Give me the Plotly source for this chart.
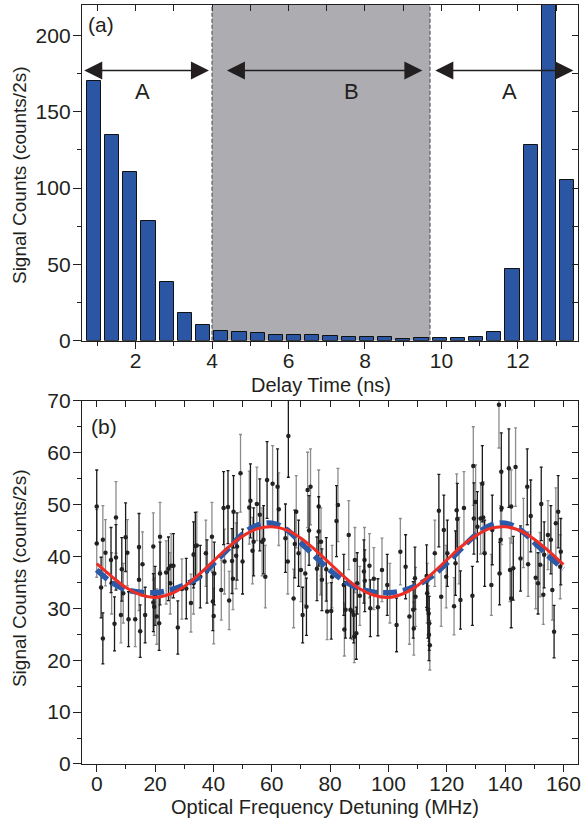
import numpy as np
import plotly.graph_objs as go

# ---- panel (a): delay time histogram ----
delay_ns = [0.91, 1.39, 1.86, 2.34, 2.82, 3.29, 3.77, 4.24, 4.72, 5.20, 5.67, 6.15, 6.62, 7.10,
            7.58, 8.05, 8.53, 9.00, 9.48, 9.96, 10.43, 10.91, 11.38, 11.86, 12.34, 12.81, 13.29]
hist_counts = [170, 135, 110.3, 78.6, 38.7, 17.9, 10.1, 6.6, 5.5, 4.8, 3.5, 3.5, 3.5, 3.1,
               2.2, 2.2, 2.2, 1.3, 1.5, 1.5, 1.8, 2.2, 5.7, 47.3, 128.2, 245, 105.3]

# gated windows
window_b = [4.0, 9.7]

# ---- panel (b): counts vs optical detuning ----
det_mhz = [0.0, 0.0, 1.5, 2.1, 2.1, 3.0, 4.9, 5.1, 6.1, 6.6, 6.6, 8.3, 8.6, 9.1, 9.9, 10.5, 10.9,
           13.2, 14.5, 14.5, 14.9, 15.7, 16.6, 19.4, 19.4, 19.7, 20.0, 20.6, 21.4, 21.7, 21.7,
           23.8, 24.6, 25.5, 26.3, 25.2, 27.8, 29.2, 30.7, 32.3, 33.2, 33.2, 33.8, 34.3, 35.5,
           37.4, 37.8, 39.5, 39.8, 40.1, 40.3, 42.7, 43.5, 43.8, 45.0, 45.4, 46.4, 46.7, 46.9,
           47.8, 48.1, 49.3, 50.0, 52.3, 52.7, 53.4, 53.8, 54.9, 55.9, 56.7, 57.2, 57.8, 58.4,
           60.3, 62.0, 62.4, 64.7, 65.5, 65.7, 67.5, 67.9, 68.4, 69.2, 70.0, 70.6, 71.5, 71.9,
           72.3, 72.8, 73.3, 75.5, 76.1, 76.1, 76.7, 77.2, 76.9, 78.7, 79.0, 80.4, 80.7, 82.2,
           82.7, 84.7, 84.9, 85.3, 86.4, 87.0, 87.5, 88.1, 88.3, 89.0, 88.5, 89.3, 90.2, 91.6,
           91.8, 91.9, 93.5, 93.8, 95.0, 96.4, 97.8, 99.6, 100.5, 102.8, 104.1, 105.9, 107.2,
           108.5, 108.7, 109.1, 109.3, 113.1, 113.3, 113.5, 113.8, 114.0, 114.2, 113.9, 115.9,
           117.3, 118.1, 119.0, 119.8, 120.2, 122.5, 123.0, 123.4, 123.6, 124.2, 124.7, 125.9,
           128.8, 129.1, 129.3, 129.9, 130.5, 131.6, 132.2, 132.5, 133.0, 135.3, 135.6, 137.9,
           138.1, 138.5, 138.7, 138.8, 141.3, 141.7, 142.1, 142.1, 142.8, 143.6, 145.3, 146.3,
           147.6, 147.9, 148.8, 150.5, 151.3, 152.0, 152.4, 153.1, 153.4, 154.7, 155.7, 156.2,
           156.8, 157.4, 158.2, 158.9, 159.1]
sig_counts = [49.6, 42.5, 34.0, 43.2, 24.2, 40.7, 39.3, 34.8, 27.0, 47.5, 39.8, 28.7, 37.5, 32.9,
              43.7, 40.7, 27.9, 27.9, 41.8, 35.5, 25.6, 38.5, 28.7, 41.9, 31.1, 30.3, 32.4, 28.4,
              27.1, 43.8, 36.7, 36.9, 37.6, 38.2, 38.2, 34.8, 26.3, 33.7, 33.8, 31.0, 40.3, 34.8,
              42.0, 42.1, 36.1, 40.6, 37.1, 43.8, 31.3, 28.5, 36.7, 33.5, 49.3, 39.0, 49.5, 31.5,
              39.1, 35.7, 48.6, 40.1, 41.9, 56.0, 39.0, 49.4, 50.7, 41.1, 42.8, 50.1, 48.0, 42.8,
              43.2, 36.1, 54.7, 54.0, 53.4, 49.1, 43.5, 39.0, 63.2, 31.9, 42.4, 48.6, 40.6, 37.4,
              28.7, 36.7, 30.3, 52.8, 45.0, 53.4, 37.6, 49.6, 44.8, 38.8, 35.5, 42.8, 37.5, 29.4,
              29.5, 36.1, 46.8, 49.9, 34.5, 25.9, 29.7, 44.1, 29.7, 29.4, 28.7, 24.5, 25.2, 39.3,
              34.8, 32.4, 37.1, 39.3, 35.3, 38.2, 30.0, 35.7, 30.2, 37.4, 34.5, 32.9, 26.8, 40.9,
              38.0, 28.4, 29.7, 26.1, 35.8, 32.2, 36.2, 32.9, 29.7, 29.0, 27.1, 22.9, 24.9, 40.6,
              48.8, 32.2, 45.1, 36.1, 40.6, 30.4, 38.7, 48.9, 47.2, 41.1, 31.6, 49.3, 32.4, 57.4,
              47.3, 50.5, 45.7, 47.3, 54.0, 47.5, 40.6, 34.5, 45.1, 69.2, 36.7, 43.2, 56.3, 49.3,
              57.0, 37.4, 31.9, 49.6, 37.7, 57.2, 39.6, 44.5, 53.4, 38.5, 47.8, 35.9, 34.8, 38.4,
              50.1, 32.6, 40.3, 44.1, 43.2, 33.5, 25.5, 46.4, 48.6, 38.0, 40.9]

# fit curves every 5 MHz
fit_mhz = [0, 5, 10, 15, 20, 25, 30, 35, 40, 45, 50, 55, 60, 65, 70, 75, 80,
           85, 90, 95, 100, 105, 110, 115, 120, 125, 130, 135, 140, 145, 150, 155, 160]
fit_red = [38.6, 36.2, 34.0, 32.6, 32.1, 32.7, 34.2, 36.5, 39.1, 41.7, 43.9, 45.3, 45.7, 45.1,
           43.5, 41.2, 38.6, 36.0, 33.8, 32.5, 32.1, 32.8, 34.4, 36.7, 39.3, 41.9, 44.0, 45.4,
           45.7, 45.0, 43.3, 41.0, 38.4]
fit_blue = [37.4, 35.0, 33.6, 33.1, 33.0, 33.5, 34.5, 36.0, 38.6, 41.4, 44.3, 46.0, 46.4, 45.2,
            42.6, 39.9, 37.3, 35.2, 33.8, 33.1, 33.0, 33.4, 34.5, 36.2, 38.7, 41.5, 44.2, 46.0,
            46.4, 45.2, 42.7, 40.0, 37.6]

ink = '#231f20'
font_fam = 'Liberation Sans, Arial, sans-serif'

# Poisson error bars from the counts
err = np.sqrt(np.array(sig_counts))
idx_black = list(range(0, len(det_mhz), 2))
idx_gray = list(range(1, len(det_mhz), 2))

fig = go.Figure()

fig.add_trace(go.Bar(x=delay_ns, y=hist_counts, width=0.375, xaxis='x', yaxis='y',
                     marker=dict(color='#2a56a3', line=dict(color='#111111', width=1)),
                     showlegend=False))

for idx, col in [(idx_gray, '#8c8c8c'), (idx_black, '#1a1a1a')]:
    fig.add_trace(go.Scatter(
        x=[det_mhz[i] for i in idx], y=[sig_counts[i] for i in idx],
        mode='markers', xaxis='x2', yaxis='y2', showlegend=False,
        marker=dict(color='#222222', size=4.5),
        error_y=dict(type='data', array=[err[i] for i in idx], color=col,
                     thickness=1.3, width=1.5)))

fig.add_trace(go.Scatter(x=fit_mhz, y=fit_blue, mode='lines', xaxis='x2', yaxis='y2',
                         line=dict(color='#2c5aa8', width=5.5, dash='14px,6px', shape='spline'),
                         showlegend=False))
fig.add_trace(go.Scatter(x=fit_mhz, y=fit_red, mode='lines', xaxis='x2', yaxis='y2',
                         line=dict(color='#ee2e24', width=3, shape='spline'),
                         showlegend=False))

# empty traces so the mirrored (inward tick) axes get drawn
fig.add_trace(go.Scatter(x=[None], y=[None], xaxis='x3', yaxis='y', showlegend=False))
fig.add_trace(go.Scatter(x=[None], y=[None], xaxis='x', yaxis='y3', showlegend=False))
fig.add_trace(go.Scatter(x=[None], y=[None], xaxis='x4', yaxis='y2', showlegend=False))
fig.add_trace(go.Scatter(x=[None], y=[None], xaxis='x2', yaxis='y4', showlegend=False))

# shaded window B with dashed edges
fig.add_shape(type='rect', xref='x', yref='y', x0=window_b[0], x1=window_b[1], y0=0, y1=220,
              fillcolor='#adadb1', line=dict(width=0), layer='below')
for xb in window_b:
    fig.add_shape(type='line', xref='x', yref='y', x0=xb, x1=xb, y0=0, y1=220,
                  line=dict(color='#5a5a5a', width=1.2, dash='4px,2px'))

# double arrows marking windows A / B / A
arrow_y = 177
for x0, x1 in [(0.62, 3.92), (4.35, 9.5), (9.8, 13.45)]:
    fig.add_annotation(x=x1, y=arrow_y, ax=x0, ay=arrow_y, xref='x', yref='y',
                       axref='x', ayref='y', text='', showarrow=True,
                       arrowhead=2, startarrowhead=2, arrowside='end+start',
                       arrowsize=2.4, startarrowsize=2.4, arrowwidth=1.5, arrowcolor=ink)
for xl, lab in [(2.17, 'A'), (7.64, 'B'), (11.78, 'A')]:
    fig.add_annotation(x=xl, y=163, xref='x', yref='y', text=lab, showarrow=False,
                       font=dict(size=22, color=ink, family=font_fam))

fig.add_annotation(x=0.009, y=0.982, xref='x domain', yref='y domain', text='(a)',
                   showarrow=False, xanchor='left', yanchor='top',
                   font=dict(size=21, color=ink, family=font_fam))
fig.add_annotation(x=0.015, y=0.965, xref='x2 domain', yref='y2 domain', text='(b)',
                   showarrow=False, xanchor='left', yanchor='top',
                   font=dict(size=21, color=ink, family=font_fam))

# axis titles placed as paper annotations
title_font = dict(size=20, color=ink, family=font_fam)
ytitle_font = dict(size=19, color=ink, family=font_fam)
fig.add_annotation(x=0.482, y=0.5, xref='paper', yref='paper', text='Delay Time (ns)',
                   showarrow=False, xanchor='center', yanchor='middle', font=title_font)
fig.add_annotation(x=0.490, y=-0.0565, xref='paper', yref='paper',
                   text='Optical Frequency Detuning (MHz)', showarrow=False,
                   xanchor='center', yanchor='middle', font=title_font)
fig.add_annotation(x=-0.127, y=0.776, xref='paper', yref='paper',
                   text='Signal Counts (counts/2s)', textangle=-90, showarrow=False,
                   xanchor='center', yanchor='middle', font=ytitle_font)
fig.add_annotation(x=-0.127, y=0.245, xref='paper', yref='paper',
                   text='Signal Counts (counts/2s)', textangle=-90, showarrow=False,
                   xanchor='center', yanchor='middle', font=ytitle_font)

axis_common = dict(showline=True, linecolor=ink, linewidth=1.3, showgrid=False,
                   zeroline=False, tickcolor=ink, tickwidth=1.2, automargin=False,
                   tickfont=dict(size=21, color=ink, family=font_fam))
mirror_common = dict(showline=True, linecolor=ink, linewidth=1.3, showgrid=False,
                     zeroline=False, tickcolor=ink, tickwidth=1.2, ticks='inside',
                     ticklen=6, showticklabels=False, automargin=False)

fig.update_layout(
    width=584, height=824,
    margin=dict(l=82, r=6, t=5, b=60),
    plot_bgcolor='white', paper_bgcolor='white',
    font=dict(family=font_fam, color=ink),
    bargap=0,
    xaxis=dict(axis_common, domain=[0, 1], anchor='y', range=[0.6, 13.57],
               tick0=0, dtick=2, ticks='outside', ticklen=7, ticklabelstandoff=-6,
               minor=dict(dtick=1, ticks='outside', ticklen=4, tickcolor=ink)),
    yaxis=dict(axis_common, domain=[0.5577, 1], anchor='x', range=[0, 220],
               tick0=0, dtick=50, ticks='outside', ticklen=8, ticklabelstandoff=-2,
               minor=dict(dtick=25, ticks='outside', ticklen=4, tickcolor=ink)),
    xaxis2=dict(axis_common, domain=[0, 1], anchor='y2', range=[-5.05, 165],
                tick0=0, dtick=20, ticks='outside', ticklen=7, ticklabelstandoff=-6,
                minor=dict(dtick=10, ticks='outside', ticklen=4, tickcolor=ink)),
    yaxis2=dict(axis_common, domain=[0, 0.4787], anchor='x2', range=[0, 70],
                tick0=0, dtick=10, ticks='outside', ticklen=8, ticklabelstandoff=-2,
                minor=dict(dtick=5, ticks='outside', ticklen=4, tickcolor=ink)),
    xaxis3=dict(mirror_common, overlaying='x', side='top', anchor='y',
                range=[0.6, 13.57], tick0=0, dtick=1),
    yaxis3=dict(mirror_common, overlaying='y', side='right', anchor='x',
                range=[0, 220], tick0=0, dtick=25),
    xaxis4=dict(mirror_common, overlaying='x2', side='top', anchor='y2',
                range=[-5.05, 165], tick0=0, dtick=10),
    yaxis4=dict(mirror_common, overlaying='y2', side='right', anchor='x2',
                range=[0, 70], tick0=0, dtick=5),
)

# drop the browser's default body margin so the figure sits at the page origin
fig.write_html('out.html', config={'displayModeBar': False},
               post_script="document.body.style.margin='0';")
